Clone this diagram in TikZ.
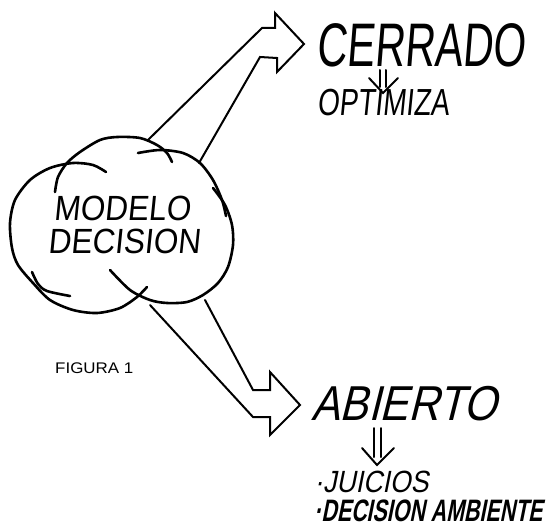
\documentclass[tikz,border=0pt]{standalone}
\usepackage{fontspec}
\setmainfont{Liberation Sans}
\newcommand{\letra}[3]{\fontsize{#1}{#1}\selectfont\addfontfeatures{FakeStretch=#2,FakeSlant=#3}}

\begin{document}
\begin{tikzpicture}[x=1pt, y=-1pt,
        trazo/.style={line width=2pt, line join=miter, line cap=round},
        nube/.style={line width=2.6pt, line cap=round},
        rotulo/.style={inner sep=0pt, anchor=base west}]
        \useasboundingbox (0,0) rectangle (553,527);

        % Nube
        \draw[nube] plot[smooth] coordinates {(55,192) (58,177) (67,163) (80,152) (100,140) (117,137) (140,138) (157,145) (167,153) (172,162)};
        \draw[nube] plot[smooth] coordinates {(106,172) (93,165) (73,163) (50,168) (30,180) (15,200) (10,223) (12,248) (18,265) (33,283) (50,300) (73,310) (97,313) (120,308) (137,297) (147,287)};
        \draw[nube] plot[smooth] coordinates {(32,272) (38,284) (47,291) (70,296)};
        \draw[nube] plot[smooth] coordinates {(138,153) (160,150) (183,153) (200,163) (213,180) (222,200) (226,216)};
        \draw[nube] plot[smooth] coordinates {(110,270) (130,290) (150,300) (167,303) (187,302) (203,295) (218,283) (228,267) (233,245) (232,225) (225,205) (213,188)};

        % Texto de la nube
        \node[inner sep=0pt, anchor=base, font=\letra{35}{0.9}{0.1}] (modelo) at (122,220) {MODELO};
        \node[inner sep=0pt, anchor=base, font=\letra{35}{0.9}{0.1}] (decision) at (124,253) {DECISION};

        % Salidas
        \node[rotulo, font=\letra{61.5}{0.68}{0.08}] (cerrado) at (316,66) {CERRADO};
        \node[rotulo, font=\letra{37.7}{0.74}{0.1}] (optimiza) at (317,115) {OPTIMIZA};
        \node[rotulo, font=\letra{49}{0.87}{0.25}] (abierto) at (311,420) {ABIERTO};
        \node[rotulo, font=\letra{30.7}{0.87}{0.2}] (juicios) at (314,492) {\textperiodcentered JUICIOS};
        \node[rotulo, font=\bfseries\letra{31}{0.69}{0.2}] (ambiente) at (314,521) {\textperiodcentered DECISION AMBIENTE};
        \node[rotulo, font=\letra{15.4}{1.1}{0}] (figura) at (55,373) {FIGURA 1};

        % Puntos de las flechas
        \coordinate (c1) at (148,140);
        \coordinate (c2) at (199,163);
        \coordinate (c3) at (205,300);
        \coordinate (c4) at (150,305);
        \coordinate (p1) at (304,44);
        \coordinate (p2) at (300,405);

        % Flechas gruesas
        \draw[trazo] (c1) -- (262,28) -- (275,28) -- (275,13) -- (p1) -- (277,72) -- (277,58) -- (260,57) -- (c2);
        \draw[trazo] (c3) -- (253,390) -- (270,390) -- (270,372) -- (p2) -- (270,435) -- (270,417) -- (253,417) -- (c4);

        % Flechas dobles
        \coordinate (d1) at (383,70);
        \coordinate (d2) at (377,428);
        \draw[trazo] (d1) ++(-3,0) -- ++(0,17);
        \draw[trazo] (d1) ++(3,0) -- ++(0,17);
        \draw[trazo] (d1) ++(-14,8) -- ++(14,15) -- ++(15,-15);
        \draw[trazo] (d2) ++(-3.5,0) -- ++(0,29);
        \draw[trazo] (d2) ++(3.5,0) -- ++(0,29);
        \draw[trazo] (d2) ++(-15,20) -- ++(15,17) -- ++(17,-17);

\end{tikzpicture}
\end{document}
